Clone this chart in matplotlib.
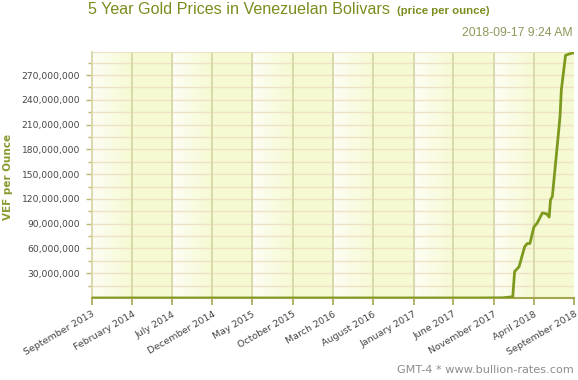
import numpy as np
import matplotlib
matplotlib.use("Agg")
import matplotlib.pyplot as plt
import matplotlib.dates as mdates
from datetime import datetime

# data (VEF per ounce)
dates = ["2013-09-17", "2014-03-17", "2014-09-17", "2015-03-17", "2015-09-17",
         "2016-03-17", "2016-09-17", "2017-03-17", "2017-09-17", "2017-12-20",
         "2018-01-28", "2018-02-04", "2018-02-21", "2018-03-14", "2018-03-24",
         "2018-04-03", "2018-04-18", "2018-05-01", "2018-05-20", "2018-06-05",
         "2018-06-15", "2018-06-20", "2018-06-27", "2018-07-22", "2018-07-26",
         "2018-07-31", "2018-08-16", "2018-09-02", "2018-09-17"]
prices = [8e3, 8e3, 8e3, 8e3, 8e3,
          1.3e4, 1.3e4, 1.3e4, 4e4, 2e5,
          1.5e6, 32e6, 38e6, 62e6, 66e6,
          66e6, 86e6, 91e6, 103e6, 102e6,
          98e6, 119e6, 123e6, 206e6, 220e6,
          252e6, 294e6, 296e6, 297e6]

tick_dates = ["2013-09-17", "2014-02-17", "2014-07-17", "2014-12-17", "2015-05-17",
              "2015-10-17", "2016-03-17", "2016-08-17", "2017-01-17", "2017-06-17",
              "2017-11-17", "2018-04-17", "2018-09-17"]
tick_labels = ["September 2013", "February 2014", "July 2014", "December 2014",
               "May 2015", "October 2015", "March 2016", "August 2016",
               "January 2017", "June 2017", "November 2017", "April 2018",
               "September 2018"]
y_ticks = [30e6, 60e6, 90e6, 120e6, 150e6, 180e6, 210e6, 240e6, 270e6]

x = mdates.date2num([datetime.strptime(d, "%Y-%m-%d") for d in dates])
xt = mdates.date2num([datetime.strptime(d, "%Y-%m-%d") for d in tick_dates])

fig = plt.figure(figsize=(5.78, 3.80), dpi=100)
ax = fig.add_axes([92/578, 1-298/380, 482/578, 246/380])

ymax = 298e6
ax.set_xlim(xt[0], xt[-1])
ax.set_ylim(0, ymax)

# background bands: gradient white->yellow in every other column
yellow = np.array([246, 250, 210]) / 255
white = np.array([253, 253, 245]) / 255
ax.set_facecolor(yellow)
grad = np.linspace(0, 1, 64)
img = (white[None, :] * (1 - grad[:, None]) + yellow[None, :] * grad[:, None])[None, :, :]
for i in range(0, len(xt) - 1, 2):
    ax.imshow(img, extent=[xt[i], xt[i + 1], 0, ymax], aspect="auto", zorder=0)

# grid
for v in np.arange(15e6, ymax, 15e6):
    ax.axhline(v, color="#ede2c6", lw=1, zorder=1)
for v in xt[1:-1]:
    ax.axvline(v, color="#d8d7a6", lw=1.3, zorder=1)
ax.axhline(ymax, color="#ece2c4", lw=1.5, zorder=1)

ax.plot(x, prices, color="#7d9a1e", lw=2, zorder=3, solid_joinstyle="round")

for s in ["top", "right"]:
    ax.spines[s].set_visible(False)
ax.spines["left"].set_color("#d8d7a6")
ax.spines["left"].set_linewidth(1.3)
ax.spines["bottom"].set_color("#a5a550")
ax.spines["bottom"].set_linewidth(1.5)

ax.set_xticks(xt)
ax.set_xticklabels(tick_labels, rotation=30, ha="right", rotation_mode="anchor",
                   fontsize=6.8, color="#444444")
ax.tick_params(axis="x", length=5, color="#a5a550", width=1.2, pad=3.5)
ax.set_yticks(y_ticks)
ax.set_yticklabels(["{:,.0f}".format(v) for v in y_ticks], fontsize=6.6, color="#444444")
ax.set_yticks(np.arange(15e6, ymax, 30e6), minor=True)
ax.tick_params(axis="y", which="major", length=4.5, color="#b8b870", width=1, pad=4)
ax.tick_params(axis="y", which="minor", length=3, color="#b8b870", width=1)

fig.text(8/578, 1-177/380, "VEF per Ounce", rotation=90, ha="center", va="center",
         fontsize=7.5, fontweight="bold", color="#8a9a30")

fig.text(88/578, 1-14/380, "5 Year Gold Prices in Venezuelan Bolivars",
         fontsize=11.6, color="#7d8c1e", family="Liberation Sans", va="baseline")
fig.text(397/578, 1-14/380, "(price per ounce)", fontsize=8.2, fontweight="bold",
         color="#7d8c1e", family="Liberation Sans", va="baseline")
fig.text(573/578, 1-33/380, "2018-09-17 9:24 AM", fontsize=8.8, color="#8a9a5a",
         family="Liberation Sans", ha="right", va="center")
fig.text(574/578, 1-370/380, "GMT-4 * www.bullion-rates.com", fontsize=8.1,
         color="#8c8c8c", ha="right", va="center", family="DejaVu Sans")

fig.savefig("out.png", dpi=100)
